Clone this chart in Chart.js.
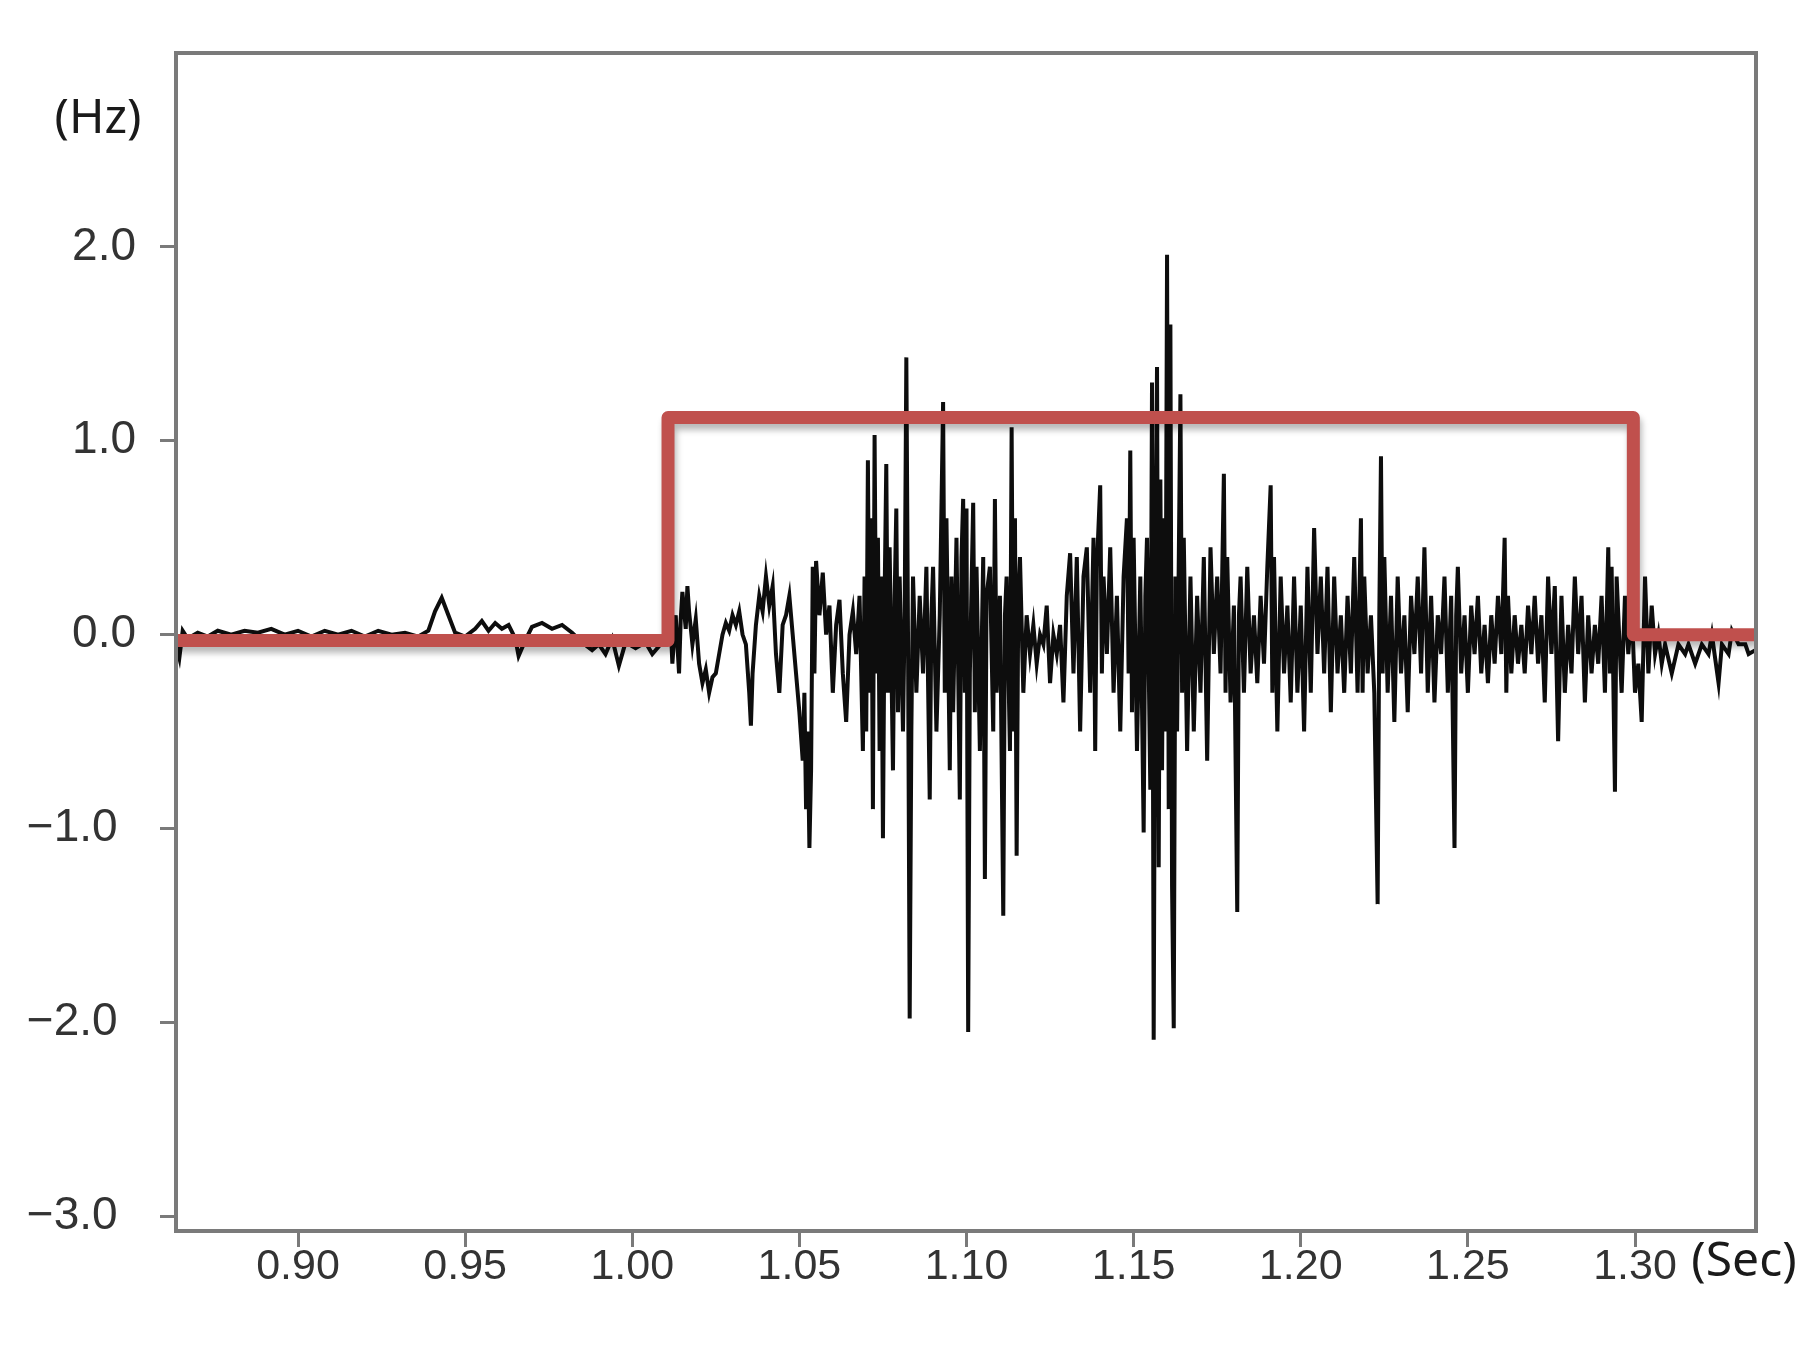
<!DOCTYPE html>
<html>
<head>
<meta charset="utf-8">
<script src="https://cdn.jsdelivr.net/npm/chart.js@4.4.1/dist/chart.umd.min.js"></script>
<style>
  html, body { margin: 0; padding: 0; background: #fff; }
  #wrap { width: 1812px; height: 1363px; }
</style>
</head>
<body>
<div id="wrap"><canvas id="chart" width="1812" height="1363"></canvas></div>
<script>
// axis ticks
const xTicks = [0.90, 0.95, 1.00, 1.05, 1.10, 1.15, 1.20, 1.25, 1.30]
const yTicks = [-3, -2, -1, 0, 1, 2]
const xUnit = '(Sec)'
const yUnit = '(Hz)'

// stimulus window (red step line), [sec, Hz]
const stimulus = [
    [0.8635, -0.03], [1.0107, -0.03], [1.0107, 1.12],
    [1.2995, 1.12], [1.2995, 0.0], [1.3362, 0.0],
]

const signal = [
    // quiet part before stimulus
    [0.8635, -0.05], [0.8645, -0.12], [0.8655, 0.02], [0.867, -0.02], [0.870, 0.01], [0.873, -0.01],
    [0.876, 0.02], [0.880, 0.0], [0.884, 0.02], [0.888, 0.01], [0.892, 0.03], [0.896, 0.0],
    [0.900, 0.02], [0.904, -0.01], [0.908, 0.02], [0.912, 0.0], [0.916, 0.02], [0.920, -0.01],
    [0.924, 0.02], [0.928, 0.0], [0.932, 0.01], [0.936, -0.01], [0.939, 0.02], [0.941, 0.12],
    [0.943, 0.19], [0.945, 0.10], [0.947, 0.01], [0.950, -0.01], [0.953, 0.03], [0.955, 0.07],
    [0.957, 0.02], [0.959, 0.06], [0.961, 0.03], [0.963, 0.05], [0.965, -0.02], [0.966, -0.11],
    [0.968, -0.03], [0.970, 0.04], [0.973, 0.06], [0.976, 0.03], [0.979, 0.05], [0.982, 0.01],
    [0.985, -0.04], [0.988, -0.08], [0.990, -0.05], [0.992, -0.10], [0.994, -0.02], [0.996, -0.16],
    [0.998, -0.04], [1.001, -0.07], [1.004, -0.04], [1.006, -0.10], [1.008, -0.06], [1.010, -0.02],
    // response
    [1.0115, 0.05], [1.012, -0.15], [1.013, 0.10], [1.014, -0.20], [1.0145, 0.08], [1.015, 0.22],
    [1.016, 0.03], [1.0165, 0.25], [1.017, 0.12], [1.018, -0.05], [1.019, 0.08], [1.020, -0.15],
    [1.021, -0.25], [1.022, -0.18], [1.023, -0.30], [1.024, -0.22], [1.025, -0.20], [1.026, -0.10],
    [1.027, 0.0], [1.028, 0.06], [1.029, 0.02], [1.030, 0.10], [1.031, 0.05], [1.032, 0.12],
    [1.033, 0.0], [1.034, -0.05], [1.035, -0.30], [1.0355, -0.47], [1.036, -0.20], [1.037, 0.05],
    [1.038, 0.20], [1.039, 0.12], [1.040, 0.30], [1.041, 0.15], [1.042, 0.25], [1.043, -0.10],
    [1.044, -0.30], [1.045, 0.05], [1.046, 0.10], [1.047, 0.20], [1.048, 0.0], [1.049, -0.20],
    [1.050, -0.40], [1.051, -0.65], [1.0515, -0.30], [1.052, -0.90], [1.0525, -0.50], [1.053, -1.10],
    [1.0535, -0.70], [1.054, 0.35], [1.0545, -0.20], [1.055, 0.38], [1.056, 0.10], [1.057, 0.32],
    [1.058, 0.0], [1.059, 0.15], [1.060, -0.30], [1.061, 0.05], [1.062, 0.18], [1.063, -0.20],
    [1.064, -0.45], [1.065, 0.0], [1.066, 0.12], [1.067, -0.10], [1.068, 0.20], [1.069, -0.60],
    [1.0695, 0.30], [1.070, -0.50], [1.0705, 0.90], [1.071, -0.30], [1.0715, 0.60], [1.072, -0.90],
    [1.0725, 1.03], [1.073, -0.20], [1.0735, 0.50], [1.074, -0.60], [1.0745, 0.30], [1.075, -1.05],
    [1.0755, 0.20], [1.076, 0.88], [1.0765, -0.30], [1.077, 0.45], [1.078, -0.70], [1.0785, 0.20],
    [1.079, 0.65], [1.0795, -0.40], [1.080, 0.30], [1.081, -0.50], [1.0815, 0.10], [1.082, 1.43],
    [1.0825, 0.0], [1.083, -1.98], [1.0835, -0.50], [1.084, 0.30], [1.085, -0.30], [1.086, 0.20],
    [1.087, -0.20], [1.088, 0.35], [1.089, -0.85], [1.0895, 0.10], [1.090, 0.35], [1.091, -0.50],
    [1.092, 0.10], [1.093, 1.20], [1.0935, -0.30], [1.094, 0.60], [1.095, -0.70], [1.0955, 0.30],
    [1.096, -0.40], [1.097, 0.50], [1.098, -0.85], [1.0985, 0.40], [1.099, 0.70], [1.0995, -0.30],
    [1.100, 0.65], [1.1005, -2.05], [1.101, -0.20], [1.102, 0.68], [1.1025, -0.40], [1.103, 0.35],
    [1.104, -0.60], [1.105, 0.40], [1.1055, -1.26], [1.106, 0.20], [1.107, 0.35], [1.108, -0.50],
    [1.1085, 0.70], [1.109, -0.30], [1.110, 0.20], [1.111, -1.45], [1.1115, 0.10], [1.112, 0.30],
    [1.113, -0.60], [1.1135, 1.07], [1.114, -0.50], [1.1145, 0.60], [1.115, -1.14], [1.1155, 0.20],
    [1.116, 0.40], [1.117, -0.30], [1.118, 0.10], [1.119, -0.10], [1.120, 0.05], [1.121, -0.15],
    [1.122, 0.0], [1.123, -0.05], [1.124, 0.15], [1.125, -0.25], [1.126, 0.0], [1.127, -0.10],
    [1.128, 0.05], [1.129, -0.35], [1.130, 0.20], [1.131, 0.42], [1.132, -0.20], [1.133, 0.40],
    [1.134, -0.50], [1.135, 0.30], [1.136, 0.45], [1.137, -0.30], [1.138, 0.50], [1.1385, -0.60],
    [1.139, 0.35], [1.140, 0.77], [1.1405, -0.20], [1.141, 0.30], [1.142, -0.10], [1.143, 0.45],
    [1.144, -0.30], [1.145, 0.20], [1.146, -0.50], [1.147, 0.30], [1.148, 0.60], [1.1485, -0.20],
    [1.149, 0.95], [1.1495, -0.40], [1.150, 0.50], [1.151, -0.60], [1.152, 0.30], [1.153, -1.02],
    [1.1535, 0.20], [1.154, 0.50], [1.155, -0.80], [1.1555, 1.30], [1.156, -2.09], [1.1565, 0.30],
    [1.157, 1.38], [1.1575, -1.20], [1.158, 0.80], [1.1585, -0.70], [1.159, 0.60], [1.1595, -0.50],
    [1.160, 1.96], [1.1605, -0.90], [1.161, 1.60], [1.1615, -1.30], [1.162, -2.03], [1.1625, 0.30],
    [1.163, -0.50], [1.164, 1.24], [1.1645, -0.30], [1.165, 0.50], [1.166, -0.60], [1.167, 0.30],
    [1.168, -0.50], [1.169, 0.20], [1.170, -0.30], [1.171, 0.40], [1.172, -0.65], [1.173, 0.45],
    [1.174, -0.10], [1.175, 0.30], [1.176, -0.20], [1.177, 0.83], [1.1775, -0.30], [1.178, 0.40],
    [1.179, -0.35], [1.180, 0.15], [1.181, -1.43], [1.1815, 0.10], [1.182, 0.30], [1.183, -0.30],
    [1.184, 0.35], [1.185, -0.20], [1.186, 0.10], [1.187, -0.25], [1.188, 0.20], [1.189, -0.15],
    [1.190, 0.35], [1.191, 0.77], [1.1915, -0.30], [1.192, 0.40], [1.193, -0.50], [1.194, 0.30],
    [1.195, -0.20], [1.196, 0.15], [1.197, -0.35], [1.198, 0.30], [1.199, -0.30], [1.200, 0.15],
    [1.201, -0.50], [1.202, 0.35], [1.203, -0.30], [1.204, 0.55], [1.205, -0.10], [1.206, 0.30],
    [1.207, -0.20], [1.208, 0.35], [1.209, -0.40], [1.210, 0.30], [1.211, -0.20], [1.212, 0.10],
    [1.213, -0.30], [1.214, 0.20], [1.215, -0.20], [1.216, 0.40], [1.217, -0.30], [1.218, 0.60],
    [1.2185, -0.30], [1.219, 0.30], [1.220, -0.20], [1.221, 0.10], [1.222, -0.30], [1.223, -1.39],
    [1.2235, 0.10], [1.224, 0.92], [1.2245, -0.20], [1.225, 0.40], [1.226, -0.30], [1.227, 0.20],
    [1.228, -0.45], [1.229, 0.30], [1.230, -0.20], [1.231, 0.10], [1.232, -0.40], [1.233, 0.20],
    [1.234, -0.10], [1.235, 0.30], [1.236, -0.20], [1.237, 0.45], [1.238, -0.30], [1.239, 0.20],
    [1.240, -0.35], [1.241, 0.10], [1.242, -0.10], [1.243, 0.30], [1.244, -0.30], [1.245, 0.20],
    [1.246, -1.10], [1.2465, 0.10], [1.247, 0.35], [1.248, -0.20], [1.249, 0.10], [1.250, -0.30],
    [1.251, 0.15], [1.252, -0.10], [1.253, 0.20], [1.254, -0.20], [1.255, 0.05], [1.256, -0.25],
    [1.257, 0.10], [1.258, -0.15], [1.259, 0.20], [1.260, -0.10], [1.261, 0.50], [1.2615, -0.30],
    [1.262, 0.20], [1.263, -0.20], [1.264, 0.10], [1.265, -0.15], [1.266, 0.05], [1.267, -0.20],
    [1.268, 0.15], [1.269, -0.10], [1.270, 0.20], [1.271, -0.15], [1.272, 0.10], [1.273, -0.35],
    [1.274, 0.30], [1.275, -0.10], [1.276, 0.25], [1.277, -0.55], [1.278, 0.20], [1.279, -0.30],
    [1.280, 0.05], [1.281, -0.20], [1.282, 0.30], [1.283, -0.10], [1.284, 0.20], [1.285, -0.35],
    [1.286, 0.10], [1.287, -0.20], [1.288, 0.05], [1.289, -0.15], [1.290, 0.20], [1.291, -0.30],
    [1.292, 0.45], [1.2925, -0.20], [1.293, 0.35], [1.294, -0.81], [1.2945, 0.30], [1.295, 0.10],
    [1.296, -0.30], [1.297, 0.20], [1.298, -0.10], [1.299, 0.15], [1.300, -0.30], [1.301, -0.15],
    [1.302, -0.45], [1.303, 0.30], [1.304, -0.20], [1.305, 0.15], [1.306, -0.10], [1.307, 0.0],
    [1.308, -0.15],
    // quiet part after stimulus
    [1.309, -0.05], [1.311, -0.20], [1.313, -0.05], [1.315, -0.10], [1.316, -0.05], [1.318, -0.15],
    [1.320, -0.05], [1.322, -0.10], [1.323, 0.0], [1.325, -0.25], [1.326, -0.05], [1.328, -0.10],
    [1.329, 0.02], [1.331, -0.05], [1.333, -0.05], [1.334, -0.10], [1.336, -0.08],
]

const toPoints = arr => arr.map(([x, y]) => ({ x, y }))

// box around plot + unit labels
const framePlugin = {
    id: 'frame',
    beforeDatasetDraw(chart, args) {
        if (args.index === 0) {
            const ctx = chart.ctx
            ctx.save()
            ctx.shadowColor = 'rgba(0,0,0,0.28)'
            ctx.shadowBlur = 6
            ctx.shadowOffsetX = 2
            ctx.shadowOffsetY = 6
        }
    },
    afterDatasetDraw(chart, args) {
        if (args.index === 0) chart.ctx.restore()
    },
    afterDraw(chart) {
        const { ctx, chartArea: a } = chart
        ctx.save()
        ctx.strokeStyle = '#7a7a7a'
        ctx.lineWidth = 4
        ctx.strokeRect(a.left, a.top, a.right - a.left, a.bottom - a.top)
        ctx.fillStyle = '#1a1a1a'
        ctx.font = '48px "Noto Sans", "Open Sans", sans-serif'
        ctx.textAlign = 'center'
        ctx.textBaseline = 'middle'
        ctx.fillText(yUnit, 98, 119)
        ctx.fillText(xUnit, 1744, 1262)
        ctx.restore()
    },
}

new Chart(document.getElementById('chart'), {
    type: 'line',
    data: {
        datasets: [
            {
                data: toPoints(stimulus),
                borderColor: '#c0504d',
                borderWidth: 13,
                borderJoinStyle: 'round',
                pointRadius: 0,
                tension: 0,
                order: 0,
            },
            {
                data: toPoints(signal),
                borderColor: '#0d0d0d',
                borderWidth: 4,
                pointRadius: 0,
                tension: 0,
                order: 1,
            },
        ],
    },
    options: {
        responsive: false,
        animation: false,
        events: [],
        layout: { padding: { top: 53, right: 56, left: 0, bottom: 0 } },
        plugins: { legend: { display: false }, tooltip: { enabled: false } },
        scales: {
            x: {
                type: 'linear',
                min: 0.8635,
                max: 1.3362,
                afterBuildTicks: s => { s.ticks = xTicks.map(v => ({ value: v })) },
                afterFit: s => { s.height = 132 },
                border: { display: true, color: '#7a7a7a', width: 4 },
                grid: { drawOnChartArea: false, drawTicks: true, tickLength: 16, color: '#7a7a7a', lineWidth: 3 },
                ticks: {
                    autoSkip: false,
                    maxRotation: 0,
                    padding: -6,
                    color: '#333333',
                    font: { family: '"Liberation Sans", Arial, sans-serif', size: 43 },
                    callback: v => v.toFixed(2),
                },
            },
            y: {
                min: -3.076,
                max: 3.0,
                afterBuildTicks: s => { s.ticks = yTicks.map(v => ({ value: v })) },
                afterFit: s => { s.width = 176 },
                border: { display: true, color: '#7a7a7a', width: 4 },
                grid: { drawOnChartArea: false, drawTicks: true, tickLength: 16, color: '#7a7a7a', lineWidth: 3 },
                ticks: {
                    padding: 24,
                    color: '#333333',
                    font: { family: '"Liberation Sans", Arial, sans-serif', size: 46 },
                    // negative labels sit a little further left in the original
                    callback: v => v < 0 ? '\u2212' + Math.abs(v).toFixed(1) + '\u2009\u2009' : v.toFixed(1),
                },
            },
        },
    },
    plugins: [framePlugin],
})
</script>
</body>
</html>
